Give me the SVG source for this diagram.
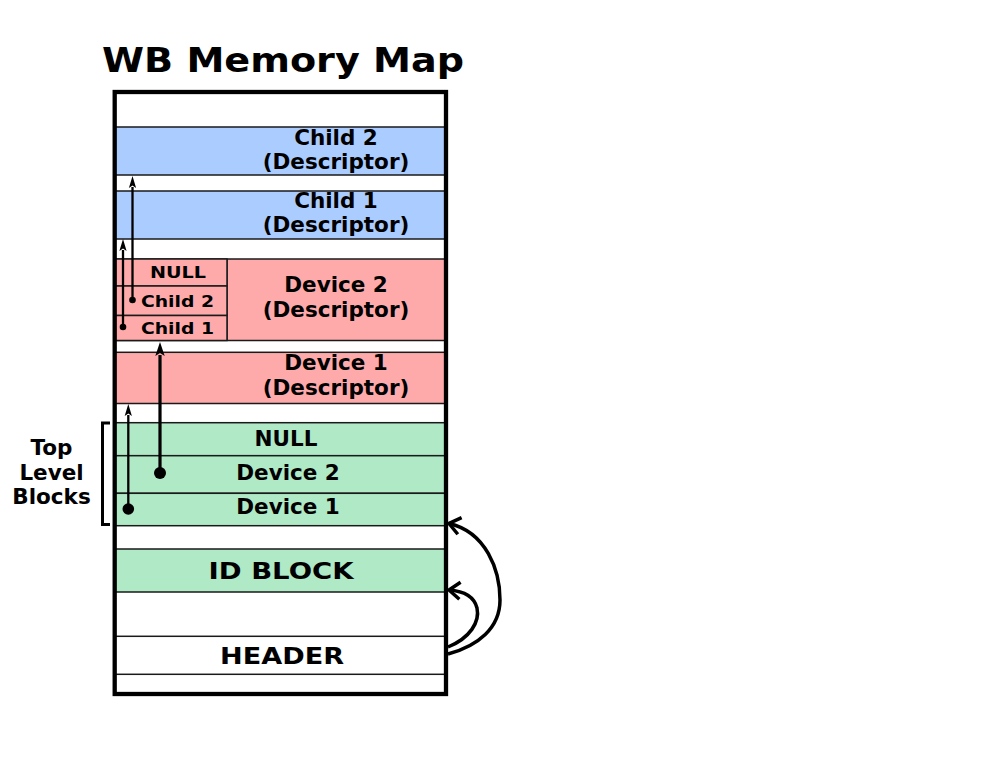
<svg xmlns="http://www.w3.org/2000/svg" width="990" height="765" viewBox="0 0 990 765">
<style>
text{font-family:"DejaVu Sans","Liberation Sans",sans-serif;font-weight:bold;fill:#000}
.m{font-size:21.5px;text-anchor:middle}
.s{font-size:16px}
.b{font-size:23px}
.band{stroke:#1a1a1a;stroke-width:1.5}
.blue{fill:#aaccff}
.pink{fill:#ffaaaa}
.green{fill:#afe9c6}
.white{fill:#ffffff}
.thin{stroke:#000;stroke-width:2.3;fill:none}
.thick{stroke:#000;stroke-width:3.2;fill:none}
.curve{stroke:#000;stroke-width:3.5;fill:none}
</style>
<defs>
<marker id="headS" markerUnits="userSpaceOnUse" orient="auto" markerWidth="30" markerHeight="30" viewBox="-15 -15 30 30" refX="0" refY="0" overflow="visible">
<path d="M11,0 L-1,-3.6 L1.5,0 L-1,3.6 Z" fill="#000"/>
</marker>
<marker id="headL" markerUnits="userSpaceOnUse" orient="auto" markerWidth="30" markerHeight="30" viewBox="-15 -15 30 30" refX="0" refY="0" overflow="visible">
<path d="M13,0 L-1,-4.7 L2,0 L-1,4.7 Z" fill="#000"/>
</marker>
<marker id="chev" markerUnits="userSpaceOnUse" orient="auto" markerWidth="30" markerHeight="30" viewBox="-15 -15 30 30" refX="0" refY="0" overflow="visible">
<path d="M-11,-8.5 L0,0 L-11,8.5" fill="none" stroke="#000" stroke-width="3.5"/>
</marker>
</defs>
<rect width="990" height="765" fill="#ffffff"/>
<g id="title"><text x="102" y="72" font-size="34" textLength="362" lengthAdjust="spacingAndGlyphs">WB Memory Map</text></g>
<g id="child2-desc"><rect class="band blue" x="115" y="127" width="331" height="48"/><text class="m" x="336" y="145">Child 2</text><text class="m" x="336" y="169">(Descriptor)</text></g>
<g id="child1-desc"><rect class="band blue" x="115" y="191" width="331" height="48"/><text class="m" x="336" y="208">Child 1</text><text class="m" x="336" y="232">(Descriptor)</text></g>
<g id="device2-desc"><rect class="band pink" x="115" y="259" width="331" height="81.5"/><line class="band" x1="227" y1="259" x2="227" y2="340.5"/><text class="m" x="336" y="292">Device 2</text><text class="m" x="336" y="317">(Descriptor)</text></g>
<g id="dev2-null"><rect class="band pink" x="115" y="259" width="112" height="27"/><text class="s" x="150" y="278" textLength="56" lengthAdjust="spacingAndGlyphs">NULL</text></g>
<g id="dev2-child2"><rect class="band pink" x="115" y="286" width="112" height="29.5"/><text class="s" x="141" y="307" textLength="73" lengthAdjust="spacingAndGlyphs">Child 2</text></g>
<g id="dev2-child1"><rect class="band pink" x="115" y="315.5" width="112" height="25"/><text class="s" x="141" y="333.5" textLength="73" lengthAdjust="spacingAndGlyphs">Child 1</text></g>
<g id="device1-desc"><rect class="band pink" x="115" y="352.3" width="331" height="51.2"/><text class="m" x="336" y="369.5">Device 1</text><text class="m" x="336" y="395">(Descriptor)</text></g>
<g id="tlb-null"><rect class="band green" x="115" y="422.7" width="331" height="33"/><text class="m" x="286" y="446">NULL</text></g>
<g id="tlb-device2"><rect class="band green" x="115" y="455.7" width="331" height="37.6"/><text class="m" x="288" y="479.5">Device 2</text></g>
<g id="tlb-device1"><rect class="band green" x="115" y="493.3" width="331" height="32.4"/><text class="m" x="288" y="514">Device 1</text></g>
<g id="id-block"><rect class="band green" x="115" y="549" width="331" height="43"/><text class="b" x="208.5" y="579" textLength="145" lengthAdjust="spacingAndGlyphs">ID BLOCK</text></g>
<g id="header"><rect class="band white" x="115" y="636.3" width="331" height="38"/><text class="b" x="220" y="664" textLength="124" lengthAdjust="spacingAndGlyphs">HEADER</text></g>
<g id="memory-frame"><rect x="114.7" y="92" width="331.3" height="602" fill="none" stroke="#000" stroke-width="4.3"/></g>
<g id="top-level-blocks">
<path d="M110,423 H102.5 V524.5 H110" fill="none" stroke="#000" stroke-width="3"/>
<text class="m" x="51.5" y="455">Top</text>
<text class="m" x="51.5" y="479.5">Level</text>
<text class="m" x="51.5" y="504">Blocks</text>
</g>
<g id="connectors">
<line class="thin" x1="132.5" y1="300" x2="132.5" y2="187" marker-end="url(#headS)"/>
<circle cx="132.5" cy="300" r="3.3" fill="#000"/>
<line class="thin" x1="123" y1="327" x2="123" y2="250" marker-end="url(#headS)"/>
<circle cx="123" cy="327" r="3.3" fill="#000"/>
<line class="thick" x1="160" y1="473" x2="160" y2="355" marker-end="url(#headL)"/>
<circle cx="160" cy="473" r="6" fill="#000"/>
<line class="thin" x1="128.3" y1="509" x2="128.3" y2="415" marker-end="url(#headS)"/>
<circle cx="128.3" cy="509" r="5.8" fill="#000"/>
<path class="curve" d="M448,654 C478,646 500,628 500,600 C500,570 486,532 449,523.5" marker-end="url(#chev)"/>
<path class="curve" d="M448,647 C470,638 480,622 477,608 C474,596 463,591 449,590" marker-end="url(#chev)"/>
</g>
</svg>
